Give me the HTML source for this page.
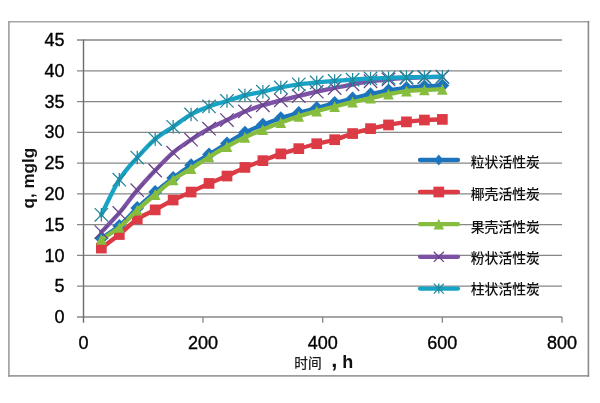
<!DOCTYPE html>
<html><head><meta charset="utf-8"><style>
html,body{margin:0;padding:0;background:#fff;}
body{width:600px;height:403px;overflow:hidden;position:relative;}
svg{position:absolute;left:0;top:0;}
.tk{font-family:"Liberation Sans",sans-serif;font-size:18px;fill:#000;stroke:#000;stroke-width:0.35px;}
.lg{font-family:"Liberation Sans","Noto Sans CJK SC",sans-serif;font-size:13.8px;font-weight:500;fill:#111;}
.ax{font-family:"Liberation Sans","Noto Sans CJK SC",sans-serif;font-weight:bold;fill:#111;}
.cjk{font-family:"Liberation Sans","Noto Sans CJK SC",sans-serif;font-weight:500;font-size:13.7px;fill:#1a1a1a;}
</style></head><body>
<svg width="600" height="403" viewBox="0 0 600 403">
<rect x="0" y="0" width="600" height="403" fill="#fff"/>
<line x1="8" y1="21.8" x2="589.2" y2="21.8" stroke="#a6a6a6" stroke-width="1.6"/>
<line x1="8.9" y1="21" x2="8.9" y2="376.7" stroke="#a3a3a3" stroke-width="1.7"/>
<line x1="8" y1="375.9" x2="589.2" y2="375.9" stroke="#9c9c9c" stroke-width="1.6"/>
<line x1="588.4" y1="21" x2="588.4" y2="376.7" stroke="#8a8a8a" stroke-width="1.6"/>
<line x1="77" y1="286.22" x2="562" y2="286.22" stroke="#878787" stroke-width="1.3"/>
<line x1="77" y1="255.44" x2="562" y2="255.44" stroke="#878787" stroke-width="1.3"/>
<line x1="77" y1="224.67" x2="562" y2="224.67" stroke="#878787" stroke-width="1.3"/>
<line x1="77" y1="193.89" x2="562" y2="193.89" stroke="#878787" stroke-width="1.3"/>
<line x1="77" y1="163.11" x2="562" y2="163.11" stroke="#878787" stroke-width="1.3"/>
<line x1="77" y1="132.33" x2="562" y2="132.33" stroke="#878787" stroke-width="1.3"/>
<line x1="77" y1="101.56" x2="562" y2="101.56" stroke="#878787" stroke-width="1.3"/>
<line x1="77" y1="70.78" x2="562" y2="70.78" stroke="#878787" stroke-width="1.3"/>
<line x1="77" y1="40.00" x2="562" y2="40.00" stroke="#878787" stroke-width="1.3"/>
<line x1="77" y1="317.00" x2="562" y2="317.00" stroke="#878787" stroke-width="1.3"/>
<line x1="83.50" y1="39.40" x2="83.50" y2="322.80" stroke="#6c6c6c" stroke-width="1.4"/>
<line x1="203.05" y1="317.00" x2="203.05" y2="322.80" stroke="#878787" stroke-width="1.3"/>
<line x1="322.70" y1="317.00" x2="322.70" y2="322.80" stroke="#878787" stroke-width="1.3"/>
<line x1="442.35" y1="317.00" x2="442.35" y2="322.80" stroke="#878787" stroke-width="1.3"/>
<line x1="562.00" y1="317.00" x2="562.00" y2="322.80" stroke="#878787" stroke-width="1.3"/>
<path d="M101.35,238.21 C104.34,236.16 113.31,230.92 119.30,225.90 C125.28,220.87 131.26,213.69 137.24,208.05 C143.22,202.40 149.21,197.07 155.19,192.04 C161.17,187.02 167.15,182.35 173.14,177.88 C179.12,173.42 185.10,169.16 191.09,165.27 C197.07,161.37 203.05,158.14 209.03,154.49 C215.01,150.85 221.00,147.06 226.98,143.41 C232.96,139.77 238.95,135.77 244.93,132.64 C250.91,129.51 256.89,127.05 262.88,124.64 C268.86,122.23 274.84,120.12 280.82,118.18 C286.81,116.23 292.79,114.64 298.77,112.94 C304.75,111.25 310.73,109.66 316.72,108.02 C322.70,106.38 328.68,104.68 334.66,103.09 C340.65,101.50 346.63,99.97 352.61,98.48 C358.59,96.99 364.58,95.50 370.56,94.17 C376.54,92.84 382.53,91.50 388.51,90.48 C394.49,89.45 400.47,88.68 406.46,88.01 C412.44,87.35 418.42,86.88 424.40,86.47 C430.39,86.06 439.36,85.70 442.35,85.55" stroke="#1c74bd" stroke-width="4.3" fill="none" stroke-linecap="round" stroke-linejoin="round"/>
<path d="M101.35,231.21L108.25,238.21L101.35,245.21L94.45,238.21Z" fill="#1c74bd"/>
<path d="M119.30,218.90L126.20,225.90L119.30,232.90L112.40,225.90Z" fill="#1c74bd"/>
<path d="M137.24,201.05L144.14,208.05L137.24,215.05L130.34,208.05Z" fill="#1c74bd"/>
<path d="M155.19,185.04L162.09,192.04L155.19,199.04L148.29,192.04Z" fill="#1c74bd"/>
<path d="M173.14,170.88L180.04,177.88L173.14,184.88L166.24,177.88Z" fill="#1c74bd"/>
<path d="M191.09,158.27L197.99,165.27L191.09,172.27L184.19,165.27Z" fill="#1c74bd"/>
<path d="M209.03,147.49L215.93,154.49L209.03,161.49L202.13,154.49Z" fill="#1c74bd"/>
<path d="M226.98,136.41L233.88,143.41L226.98,150.41L220.08,143.41Z" fill="#1c74bd"/>
<path d="M244.93,125.64L251.83,132.64L244.93,139.64L238.03,132.64Z" fill="#1c74bd"/>
<path d="M262.88,117.64L269.77,124.64L262.88,131.64L255.97,124.64Z" fill="#1c74bd"/>
<path d="M280.82,111.18L287.72,118.18L280.82,125.18L273.92,118.18Z" fill="#1c74bd"/>
<path d="M298.77,105.94L305.67,112.94L298.77,119.94L291.87,112.94Z" fill="#1c74bd"/>
<path d="M316.72,101.02L323.62,108.02L316.72,115.02L309.82,108.02Z" fill="#1c74bd"/>
<path d="M334.66,96.09L341.56,103.09L334.66,110.09L327.76,103.09Z" fill="#1c74bd"/>
<path d="M352.61,91.48L359.51,98.48L352.61,105.48L345.71,98.48Z" fill="#1c74bd"/>
<path d="M370.56,87.17L377.46,94.17L370.56,101.17L363.66,94.17Z" fill="#1c74bd"/>
<path d="M388.51,83.48L395.41,90.48L388.51,97.48L381.61,90.48Z" fill="#1c74bd"/>
<path d="M406.46,81.01L413.36,88.01L406.46,95.01L399.56,88.01Z" fill="#1c74bd"/>
<path d="M424.40,79.47L431.30,86.47L424.40,93.47L417.50,86.47Z" fill="#1c74bd"/>
<path d="M442.35,78.55L449.25,85.55L442.35,92.55L435.45,85.55Z" fill="#1c74bd"/>
<path d="M101.35,248.06 C104.34,245.80 113.31,239.34 119.30,234.52 C125.28,229.69 131.26,223.23 137.24,219.13 C143.22,215.02 149.21,213.07 155.19,209.89 C161.17,206.71 167.15,203.02 173.14,200.04 C179.12,197.07 185.10,194.81 191.09,192.04 C197.07,189.27 203.05,186.09 209.03,183.42 C215.01,180.76 221.00,178.71 226.98,176.04 C232.96,173.37 238.95,169.98 244.93,167.42 C250.91,164.86 256.89,162.91 262.88,160.65 C268.86,158.39 274.84,155.88 280.82,153.88 C286.81,151.88 292.79,150.34 298.77,148.65 C304.75,146.95 310.73,145.21 316.72,143.72 C322.70,142.23 328.68,141.41 334.66,139.72 C340.65,138.03 346.63,135.41 352.61,133.56 C358.59,131.72 364.58,130.08 370.56,128.64 C376.54,127.20 382.53,126.08 388.51,124.95 C394.49,123.82 400.47,122.69 406.46,121.87 C412.44,121.05 418.42,120.43 424.40,120.02 C430.39,119.61 439.36,119.51 442.35,119.41" stroke="#dc3a44" stroke-width="4.3" fill="none" stroke-linecap="round" stroke-linejoin="round"/>
<rect x="96.00" y="242.71" width="10.70" height="10.70" fill="#dc3a44"/>
<rect x="113.95" y="229.17" width="10.70" height="10.70" fill="#dc3a44"/>
<rect x="131.89" y="213.78" width="10.70" height="10.70" fill="#dc3a44"/>
<rect x="149.84" y="204.54" width="10.70" height="10.70" fill="#dc3a44"/>
<rect x="167.79" y="194.69" width="10.70" height="10.70" fill="#dc3a44"/>
<rect x="185.74" y="186.69" width="10.70" height="10.70" fill="#dc3a44"/>
<rect x="203.68" y="178.07" width="10.70" height="10.70" fill="#dc3a44"/>
<rect x="221.63" y="170.69" width="10.70" height="10.70" fill="#dc3a44"/>
<rect x="239.58" y="162.07" width="10.70" height="10.70" fill="#dc3a44"/>
<rect x="257.52" y="155.30" width="10.70" height="10.70" fill="#dc3a44"/>
<rect x="275.47" y="148.53" width="10.70" height="10.70" fill="#dc3a44"/>
<rect x="293.42" y="143.30" width="10.70" height="10.70" fill="#dc3a44"/>
<rect x="311.37" y="138.37" width="10.70" height="10.70" fill="#dc3a44"/>
<rect x="329.31" y="134.37" width="10.70" height="10.70" fill="#dc3a44"/>
<rect x="347.26" y="128.21" width="10.70" height="10.70" fill="#dc3a44"/>
<rect x="365.21" y="123.29" width="10.70" height="10.70" fill="#dc3a44"/>
<rect x="383.16" y="119.60" width="10.70" height="10.70" fill="#dc3a44"/>
<rect x="401.11" y="116.52" width="10.70" height="10.70" fill="#dc3a44"/>
<rect x="419.05" y="114.67" width="10.70" height="10.70" fill="#dc3a44"/>
<rect x="437.00" y="114.06" width="10.70" height="10.70" fill="#dc3a44"/>
<path d="M101.35,239.44 C104.34,237.44 113.31,232.31 119.30,227.44 C125.28,222.56 131.26,215.69 137.24,210.20 C143.22,204.71 149.21,199.58 155.19,194.50 C161.17,189.43 167.15,184.04 173.14,179.73 C179.12,175.42 185.10,172.45 191.09,168.65 C197.07,164.86 203.05,160.65 209.03,156.96 C215.01,153.26 221.00,149.77 226.98,146.49 C232.96,143.21 238.95,140.08 244.93,137.26 C250.91,134.44 256.89,132.03 262.88,129.56 C268.86,127.10 274.84,124.69 280.82,122.48 C286.81,120.28 292.79,118.23 298.77,116.33 C304.75,114.43 310.73,112.74 316.72,111.10 C322.70,109.46 328.68,107.97 334.66,106.48 C340.65,104.99 346.63,103.56 352.61,102.17 C358.59,100.79 364.58,99.50 370.56,98.17 C376.54,96.84 382.53,95.35 388.51,94.17 C394.49,92.99 400.47,91.81 406.46,91.09 C412.44,90.37 418.42,90.17 424.40,89.86 C430.39,89.55 439.36,89.35 442.35,89.24" stroke="#86bd3e" stroke-width="4.3" fill="none" stroke-linecap="round" stroke-linejoin="round"/>
<path d="M101.35,234.04L106.65,244.84L96.05,244.84Z" fill="#86bd3e"/>
<path d="M119.30,222.04L124.60,232.84L114.00,232.84Z" fill="#86bd3e"/>
<path d="M137.24,204.80L142.54,215.60L131.94,215.60Z" fill="#86bd3e"/>
<path d="M155.19,189.10L160.49,199.90L149.89,199.90Z" fill="#86bd3e"/>
<path d="M173.14,174.33L178.44,185.13L167.84,185.13Z" fill="#86bd3e"/>
<path d="M191.09,163.25L196.39,174.05L185.78,174.05Z" fill="#86bd3e"/>
<path d="M209.03,151.56L214.33,162.36L203.73,162.36Z" fill="#86bd3e"/>
<path d="M226.98,141.09L232.28,151.89L221.68,151.89Z" fill="#86bd3e"/>
<path d="M244.93,131.86L250.23,142.66L239.63,142.66Z" fill="#86bd3e"/>
<path d="M262.88,124.16L268.18,134.96L257.57,134.96Z" fill="#86bd3e"/>
<path d="M280.82,117.08L286.12,127.88L275.52,127.88Z" fill="#86bd3e"/>
<path d="M298.77,110.93L304.07,121.73L293.47,121.73Z" fill="#86bd3e"/>
<path d="M316.72,105.70L322.02,116.50L311.42,116.50Z" fill="#86bd3e"/>
<path d="M334.66,101.08L339.96,111.88L329.36,111.88Z" fill="#86bd3e"/>
<path d="M352.61,96.77L357.91,107.57L347.31,107.57Z" fill="#86bd3e"/>
<path d="M370.56,92.77L375.86,103.57L365.26,103.57Z" fill="#86bd3e"/>
<path d="M388.51,88.77L393.81,99.57L383.21,99.57Z" fill="#86bd3e"/>
<path d="M406.46,85.69L411.76,96.49L401.16,96.49Z" fill="#86bd3e"/>
<path d="M424.40,84.46L429.70,95.26L419.10,95.26Z" fill="#86bd3e"/>
<path d="M442.35,83.84L447.65,94.64L437.05,94.64Z" fill="#86bd3e"/>
<path d="M101.35,232.05 C104.34,228.87 113.31,219.95 119.30,212.97 C125.28,205.99 131.26,197.27 137.24,190.20 C143.22,183.12 149.21,176.76 155.19,170.50 C161.17,164.24 167.15,157.78 173.14,152.65 C179.12,147.52 185.10,143.72 191.09,139.72 C197.07,135.72 203.05,131.92 209.03,128.64 C215.01,125.36 221.00,122.89 226.98,120.02 C232.96,117.15 238.95,113.87 244.93,111.40 C250.91,108.94 256.89,107.10 262.88,105.25 C268.86,103.40 274.84,101.86 280.82,100.32 C286.81,98.79 292.79,97.45 298.77,96.02 C304.75,94.58 310.73,93.04 316.72,91.71 C322.70,90.37 328.68,89.24 334.66,88.01 C340.65,86.78 346.63,85.45 352.61,84.32 C358.59,83.19 364.58,82.06 370.56,81.24 C376.54,80.42 382.53,79.96 388.51,79.40 C394.49,78.83 400.47,78.22 406.46,77.86 C412.44,77.50 418.42,77.39 424.40,77.24 C430.39,77.09 439.36,76.98 442.35,76.93" stroke="#7d52a6" stroke-width="4.3" fill="none" stroke-linecap="round" stroke-linejoin="round"/>
<path d="M94.65,225.35L108.05,238.75M94.65,238.75L108.05,225.35" stroke="#664488" stroke-width="1.25" fill="none"/>
<path d="M112.60,206.27L126.00,219.67M112.60,219.67L126.00,206.27" stroke="#664488" stroke-width="1.25" fill="none"/>
<path d="M130.54,183.50L143.94,196.90M130.54,196.90L143.94,183.50" stroke="#664488" stroke-width="1.25" fill="none"/>
<path d="M148.49,163.80L161.89,177.20M148.49,177.20L161.89,163.80" stroke="#664488" stroke-width="1.25" fill="none"/>
<path d="M166.44,145.95L179.84,159.35M166.44,159.35L179.84,145.95" stroke="#664488" stroke-width="1.25" fill="none"/>
<path d="M184.39,133.02L197.78,146.42M184.39,146.42L197.78,133.02" stroke="#664488" stroke-width="1.25" fill="none"/>
<path d="M202.33,121.94L215.73,135.34M202.33,135.34L215.73,121.94" stroke="#664488" stroke-width="1.25" fill="none"/>
<path d="M220.28,113.32L233.68,126.72M220.28,126.72L233.68,113.32" stroke="#664488" stroke-width="1.25" fill="none"/>
<path d="M238.23,104.70L251.63,118.10M238.23,118.10L251.63,104.70" stroke="#664488" stroke-width="1.25" fill="none"/>
<path d="M256.18,98.55L269.57,111.95M256.18,111.95L269.57,98.55" stroke="#664488" stroke-width="1.25" fill="none"/>
<path d="M274.12,93.62L287.52,107.02M274.12,107.02L287.52,93.62" stroke="#664488" stroke-width="1.25" fill="none"/>
<path d="M292.07,89.32L305.47,102.72M292.07,102.72L305.47,89.32" stroke="#664488" stroke-width="1.25" fill="none"/>
<path d="M310.02,85.01L323.42,98.41M310.02,98.41L323.42,85.01" stroke="#664488" stroke-width="1.25" fill="none"/>
<path d="M327.96,81.31L341.36,94.71M327.96,94.71L341.36,81.31" stroke="#664488" stroke-width="1.25" fill="none"/>
<path d="M345.91,77.62L359.31,91.02M345.91,91.02L359.31,77.62" stroke="#664488" stroke-width="1.25" fill="none"/>
<path d="M363.86,74.54L377.26,87.94M363.86,87.94L377.26,74.54" stroke="#664488" stroke-width="1.25" fill="none"/>
<path d="M381.81,72.70L395.21,86.10M381.81,86.10L395.21,72.70" stroke="#664488" stroke-width="1.25" fill="none"/>
<path d="M399.76,71.16L413.16,84.56M399.76,84.56L413.16,71.16" stroke="#664488" stroke-width="1.25" fill="none"/>
<path d="M417.70,70.54L431.10,83.94M417.70,83.94L431.10,70.54" stroke="#664488" stroke-width="1.25" fill="none"/>
<path d="M435.65,70.23L449.05,83.63M435.65,83.63L449.05,70.23" stroke="#664488" stroke-width="1.25" fill="none"/>
<path d="M101.35,214.82 C104.34,208.97 113.31,189.27 119.30,179.73 C125.28,170.19 131.26,164.34 137.24,157.57 C143.22,150.80 149.21,144.23 155.19,139.10 C161.17,133.97 167.15,130.90 173.14,126.79 C179.12,122.69 185.10,117.87 191.09,114.48 C197.07,111.10 203.05,108.74 209.03,106.48 C215.01,104.22 221.00,102.79 226.98,100.94 C232.96,99.09 238.95,96.94 244.93,95.40 C250.91,93.86 256.89,93.04 262.88,91.71 C268.86,90.37 274.84,88.63 280.82,87.40 C286.81,86.17 292.79,85.14 298.77,84.32 C304.75,83.50 310.73,83.04 316.72,82.47 C322.70,81.91 328.68,81.40 334.66,80.93 C340.65,80.47 346.63,80.11 352.61,79.70 C358.59,79.29 364.58,78.78 370.56,78.47 C376.54,78.16 382.53,78.06 388.51,77.86 C394.49,77.65 400.47,77.39 406.46,77.24 C412.44,77.09 418.42,77.04 424.40,76.93 C430.39,76.83 439.36,76.68 442.35,76.63" stroke="#17a3c5" stroke-width="4.3" fill="none" stroke-linecap="round" stroke-linejoin="round"/>
<path d="M94.65,208.12L108.05,221.52M94.65,221.52L108.05,208.12M101.35,208.12L101.35,221.52" stroke="#23879c" stroke-width="1.25" fill="none"/>
<path d="M112.60,173.03L126.00,186.43M112.60,186.43L126.00,173.03M119.30,173.03L119.30,186.43" stroke="#23879c" stroke-width="1.25" fill="none"/>
<path d="M130.54,150.87L143.94,164.27M130.54,164.27L143.94,150.87M137.24,150.87L137.24,164.27" stroke="#23879c" stroke-width="1.25" fill="none"/>
<path d="M148.49,132.40L161.89,145.80M148.49,145.80L161.89,132.40M155.19,132.40L155.19,145.80" stroke="#23879c" stroke-width="1.25" fill="none"/>
<path d="M166.44,120.09L179.84,133.49M166.44,133.49L179.84,120.09M173.14,120.09L173.14,133.49" stroke="#23879c" stroke-width="1.25" fill="none"/>
<path d="M184.39,107.78L197.78,121.18M184.39,121.18L197.78,107.78M191.09,107.78L191.09,121.18" stroke="#23879c" stroke-width="1.25" fill="none"/>
<path d="M202.33,99.78L215.73,113.18M202.33,113.18L215.73,99.78M209.03,99.78L209.03,113.18" stroke="#23879c" stroke-width="1.25" fill="none"/>
<path d="M220.28,94.24L233.68,107.64M220.28,107.64L233.68,94.24M226.98,94.24L226.98,107.64" stroke="#23879c" stroke-width="1.25" fill="none"/>
<path d="M238.23,88.70L251.63,102.10M238.23,102.10L251.63,88.70M244.93,88.70L244.93,102.10" stroke="#23879c" stroke-width="1.25" fill="none"/>
<path d="M256.18,85.01L269.57,98.41M256.18,98.41L269.57,85.01M262.88,85.01L262.88,98.41" stroke="#23879c" stroke-width="1.25" fill="none"/>
<path d="M274.12,80.70L287.52,94.10M274.12,94.10L287.52,80.70M280.82,80.70L280.82,94.10" stroke="#23879c" stroke-width="1.25" fill="none"/>
<path d="M292.07,77.62L305.47,91.02M292.07,91.02L305.47,77.62M298.77,77.62L298.77,91.02" stroke="#23879c" stroke-width="1.25" fill="none"/>
<path d="M310.02,75.77L323.42,89.17M310.02,89.17L323.42,75.77M316.72,75.77L316.72,89.17" stroke="#23879c" stroke-width="1.25" fill="none"/>
<path d="M327.96,74.23L341.36,87.63M327.96,87.63L341.36,74.23M334.66,74.23L334.66,87.63" stroke="#23879c" stroke-width="1.25" fill="none"/>
<path d="M345.91,73.00L359.31,86.40M345.91,86.40L359.31,73.00M352.61,73.00L352.61,86.40" stroke="#23879c" stroke-width="1.25" fill="none"/>
<path d="M363.86,71.77L377.26,85.17M363.86,85.17L377.26,71.77M370.56,71.77L370.56,85.17" stroke="#23879c" stroke-width="1.25" fill="none"/>
<path d="M381.81,71.16L395.21,84.56M381.81,84.56L395.21,71.16M388.51,71.16L388.51,84.56" stroke="#23879c" stroke-width="1.25" fill="none"/>
<path d="M399.76,70.54L413.16,83.94M399.76,83.94L413.16,70.54M406.46,70.54L406.46,83.94" stroke="#23879c" stroke-width="1.25" fill="none"/>
<path d="M417.70,70.23L431.10,83.63M417.70,83.63L431.10,70.23M424.40,70.23L424.40,83.63" stroke="#23879c" stroke-width="1.25" fill="none"/>
<path d="M435.65,69.93L449.05,83.33M435.65,83.33L449.05,69.93M442.35,69.93L442.35,83.33" stroke="#23879c" stroke-width="1.25" fill="none"/>
<line x1="420" y1="160.00" x2="458" y2="160.00" stroke="#1c74bd" stroke-width="4.3" stroke-linecap="round"/>
<path d="M438.80,154.60L443.30,160.00L438.80,165.40L434.30,160.00Z" fill="#1c74bd"/>
<line x1="420" y1="192.00" x2="458" y2="192.00" stroke="#dc3a44" stroke-width="4.3" stroke-linecap="round"/>
<rect x="433.45" y="186.65" width="10.70" height="10.70" fill="#dc3a44"/>
<line x1="420" y1="224.20" x2="458" y2="224.20" stroke="#86bd3e" stroke-width="4.3" stroke-linecap="round"/>
<path d="M438.80,218.80L444.10,229.60L433.50,229.60Z" fill="#86bd3e"/>
<line x1="420" y1="256.80" x2="458" y2="256.80" stroke="#7d52a6" stroke-width="4.3" stroke-linecap="round"/>
<path d="M433.78,251.78L443.82,261.82M433.78,261.82L443.82,251.78" stroke="#664488" stroke-width="1.25" fill="none"/>
<line x1="420" y1="288.60" x2="458" y2="288.60" stroke="#17a3c5" stroke-width="4.3" stroke-linecap="round"/>
<path d="M433.78,283.58L443.82,293.62M433.78,293.62L443.82,283.58M438.80,283.58L438.80,293.62" stroke="#23879c" stroke-width="1.25" fill="none"/>
<text x="64.5" y="323.10" text-anchor="end" class="tk">0</text>
<text x="64.5" y="292.32" text-anchor="end" class="tk">5</text>
<text x="64.5" y="261.54" text-anchor="end" class="tk">10</text>
<text x="64.5" y="230.77" text-anchor="end" class="tk">15</text>
<text x="64.5" y="199.99" text-anchor="end" class="tk">20</text>
<text x="64.5" y="169.21" text-anchor="end" class="tk">25</text>
<text x="64.5" y="138.43" text-anchor="end" class="tk">30</text>
<text x="64.5" y="107.66" text-anchor="end" class="tk">35</text>
<text x="64.5" y="76.88" text-anchor="end" class="tk">40</text>
<text x="64.5" y="46.10" text-anchor="end" class="tk">45</text>
<text x="83.40" y="349" text-anchor="middle" class="tk">0</text>
<text x="203.05" y="349" text-anchor="middle" class="tk">200</text>
<text x="322.70" y="349" text-anchor="middle" class="tk">400</text>
<text x="442.35" y="349" text-anchor="middle" class="tk">600</text>
<text x="562.00" y="349" text-anchor="middle" class="tk">800</text>
<text x="470.8" y="167.20" class="lg">粒状活性炭</text>
<text x="470.8" y="199.30" class="lg">椰壳活性炭</text>
<text x="470.8" y="231.50" class="lg">果壳活性炭</text>
<text x="470.8" y="262.80" class="lg">粉状活性炭</text>
<text x="470.8" y="294.20" class="lg">柱状活性炭</text>
<text class="ax" font-size="17" transform="translate(34.4,208.4) rotate(-90)">q, mglg</text>
<text class="cjk" x="294.2" y="368">时间</text><text class="ax" font-size="22" x="331.3" y="367.4">,</text><text class="ax" font-size="18" x="342.2" y="367.7">h</text>
</svg>
</body></html>
